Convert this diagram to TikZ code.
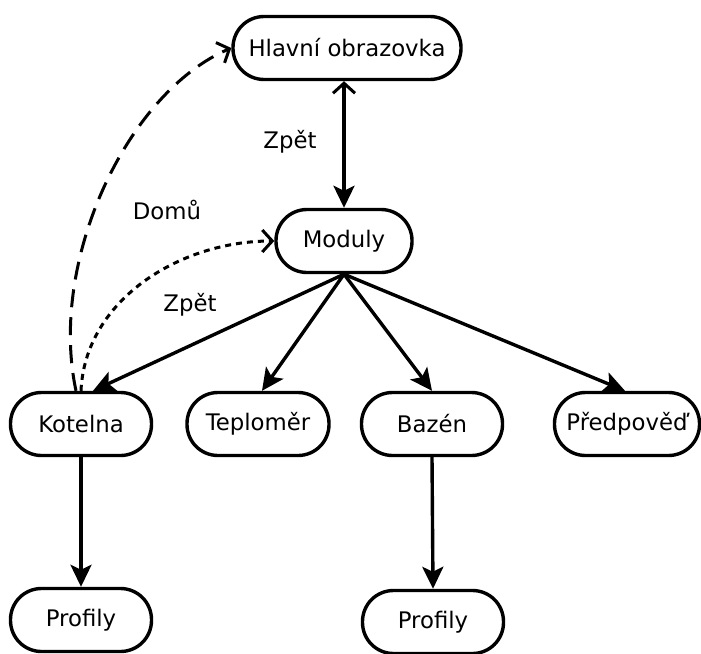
\documentclass[tikz,border=0pt]{standalone}
\usepackage{fontspec}
\setmainfont{DejaVu Sans}
\usetikzlibrary{arrows.meta}
\begin{document}
\begin{tikzpicture}[x=1pt,y=-1pt,
  font=\fontsize{22.8}{26}\selectfont,
  screen/.style={draw, line width=3.4pt, rounded corners=31pt, minimum height=63pt, inner sep=0pt},
  link/.style={line width=3.4pt, -{Stealth[length=22pt,width=21pt,inset=5pt]}},
  back/.style={line width=3pt, -{Straight Barb[length=10pt,width=22pt,line width=3pt]}},
  both/.style={line width=3.4pt, {Straight Barb[length=10pt,width=22pt,line width=3pt]}-{Stealth[length=22pt,width=21pt,inset=5pt]}},
  lbl/.style={inner sep=0pt}]
\useasboundingbox (0,0) rectangle (701,653);

% screens
\node[screen, minimum width=228pt] (hl)  at (347,48)  {Hlavní obrazovka};
\node[screen, minimum width=136pt] (mod) at (344,241) {Moduly};
\node[screen, minimum width=141pt] (kot) at (81,424)  {Kotelna};
\node[screen, minimum width=142pt] (tep) at (258,424) {Teploměr};
\node[screen, minimum width=141pt] (baz) at (432,424) {Bazén};
\node[screen, minimum width=145pt] (pre) at (627,424) {Předpověď};
\node[screen, minimum width=141pt] (pk)  at (81,620)  {Profily};
\node[screen, minimum width=141pt] (pb)  at (433,622) {Profily};

% navigation
\draw[both] (hl.south -| mod.north) -- (mod.north);
\draw[link] (mod.south) -- ([xshift=12pt]kot.north);
\draw[link] (mod.south) -- ([xshift=4pt]tep.north);
\draw[link] (mod.south) -- (baz.north);
\draw[link] (mod.south) -- ([xshift=-2pt]pre.north);
\draw[link] (kot.south) -- (pk.north);
\draw[link] (baz.south) -- (pb.north);

% return paths
\draw[back, dash pattern=on 18pt off 10pt]
  ([xshift=-5pt]kot.north) .. controls (48,260) and (128,92) .. (hl.west);
\draw[back, dash pattern=on 6pt off 5pt]
  (kot.north) .. controls (85,300) and (180,241) .. (mod.west);

% labels
\node[lbl] (l1) at (290,142) {Zpět};
\node[lbl] (l2) at (167,210) {Domů};
\node[lbl] (l3) at (190,305) {Zpět};
\end{tikzpicture}
\end{document}
